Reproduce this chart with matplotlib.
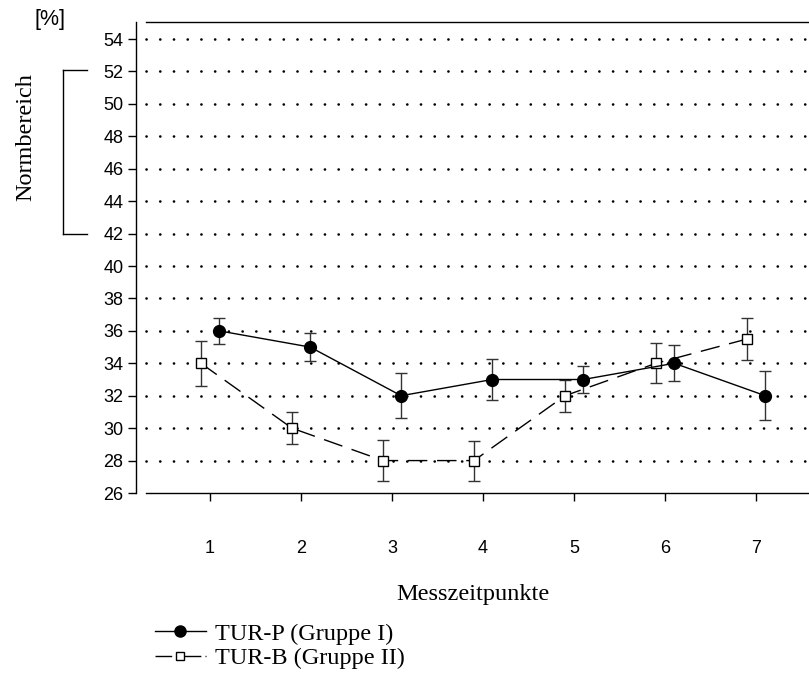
import matplotlib
matplotlib.use("Agg")
import matplotlib.pyplot as plt
from matplotlib.lines import Line2D

# Data
timepoints = [1, 2, 3, 4, 5, 6, 7]
tur_p = [36, 35, 32, 33, 33, 34, 32]
tur_p_err = [0.8, 0.85, 1.4, 1.25, 0.85, 1.1, 1.5]
tur_b = [34, 30, 28, 28, 32, 34, 35.5]
tur_b_err = [1.4, 1.0, 1.27, 1.23, 1.0, 1.23, 1.3]
yticks = list(range(26, 56, 2))
labels = ["TUR-P (Gruppe I)", "TUR-B (Gruppe II)"]

sans = "Liberation Sans"
serif = "Liberation Serif"

fig = plt.figure(figsize=(8.09, 6.77), dpi=100)
W, H = 809, 677
ax = fig.add_axes([136 / W, 1 - 493 / H, (809 - 136) / W, (493 - 22) / H])

x0, x1 = 0.187, 7.58
ax.set_xlim(x0, x1)
ax.set_ylim(26, 55.05)

# dotted grid
for y in yticks[1:]:
    ax.plot([0.3, x1], [y, y], color="black", lw=1.9, linestyle=(0, (0.05, 5.15)),
            dash_capstyle="round", zorder=1)

off = 0.1
xp = [t + off for t in timepoints]
xb = [t - off for t in timepoints]

ax.errorbar(xb, tur_b, yerr=tur_b_err, fmt="none", ecolor="#333333", elinewidth=1,
            capsize=4.5, capthick=1, zorder=2)
ax.errorbar(xp, tur_p, yerr=tur_p_err, fmt="none", ecolor="#333333", elinewidth=1,
            capsize=4.5, capthick=1, zorder=2)
ax.plot(xb, tur_b, color="black", lw=1, linestyle=(0, (14, 7)), marker="s",
        markersize=7.5, markerfacecolor="white", markeredgecolor="black",
        markeredgewidth=1, zorder=3)
ax.plot(xp, tur_p, color="black", lw=1, linestyle="-", marker="o",
        markersize=8.5, markerfacecolor="black", markeredgecolor="black", zorder=4)

# spines
ax.spines["right"].set_visible(False)
ax.spines["top"].set_bounds(0.3, x1)
ax.spines["bottom"].set_bounds(0.3, x1)
ax.spines["left"].set_bounds(26, 55.05)
for s in ["top", "bottom", "left"]:
    ax.spines[s].set_linewidth(1)

ax.set_yticks(yticks)
ax.set_yticklabels([str(v) for v in yticks], fontfamily=sans, fontsize=13)
ax.set_xticks(timepoints)
ax.set_xticklabels([str(v) for v in timepoints], fontfamily=sans, fontsize=13)
ax.tick_params(axis="y", direction="out", length=6, width=1, pad=3)
ax.tick_params(axis="x", direction="out", length=6, width=1, pad=28)

ax.set_xlabel("Messzeitpunkte", fontfamily=serif, fontsize=17.5, labelpad=19)

fig.text(50 / W, 1 - 20 / H, "[%]", fontfamily=sans, fontsize=15.5,
         ha="center", va="center")
fig.text(26 / W, 1 - 137 / H, "Normbereich", fontfamily=serif, fontsize=17.5,
         rotation=90, ha="center", va="center")

# Normbereich bracket (figure coords)
fig.add_artist(Line2D([62.5 / W, 62.5 / W], [1 - 70 / H, 1 - 234 / H],
                      color="black", lw=1, transform=fig.transFigure))
fig.add_artist(Line2D([62.5 / W, 87 / W], [1 - 70 / H, 1 - 70 / H],
                      color="black", lw=1, transform=fig.transFigure))
fig.add_artist(Line2D([62.5 / W, 87 / W], [1 - 234 / H, 1 - 234 / H],
                      color="black", lw=1, transform=fig.transFigure))

# legend
h1 = Line2D([], [], color="black", lw=1, marker="o", markersize=8,
            markerfacecolor="black")
h2 = Line2D([], [], color="black", lw=1, linestyle=(0, (12, 3, 3, 3)), marker="s",
            markersize=6, markerfacecolor="white", markeredgecolor="black")
leg = fig.legend([h1, h2], labels, loc="upper left",
                 bbox_to_anchor=(145 / W, 1 - 613 / H), frameon=False,
                 prop={"family": serif, "size": 17.5}, handlelength=2.1,
                 handletextpad=0.4, labelspacing=0.1, borderaxespad=0)

fig.savefig("out.png", dpi=100)
